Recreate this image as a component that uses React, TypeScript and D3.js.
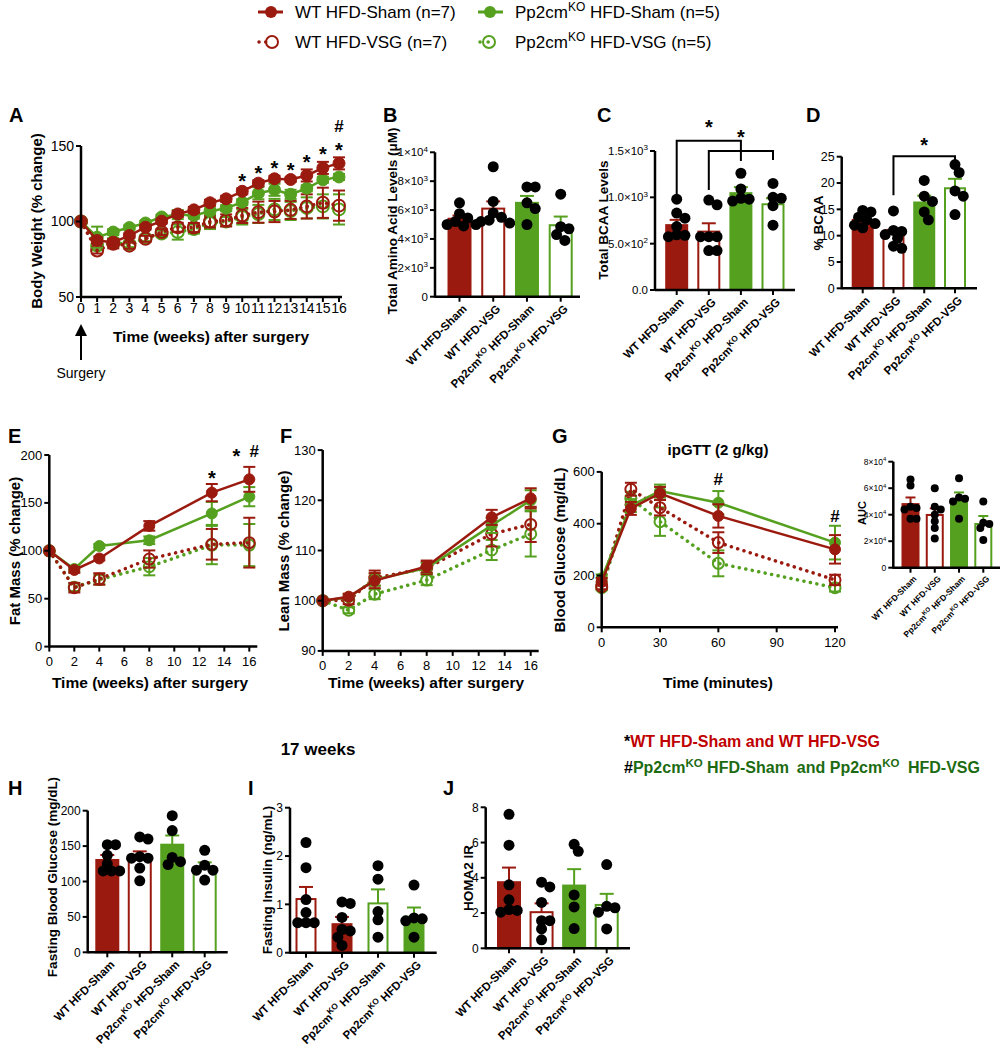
import React from 'react';
import * as d3 from 'd3';

const RED = '#9b1a0f';
const GREEN = '#55a01f';
const FONT = '"Liberation Sans", Arial, Helvetica, sans-serif';

const groups = ['WT HFD-Sham', 'WT HFD-VSG', 'Pp2cmKO HFD-Sham', 'Pp2cmKO HFD-VSG'];
const groupColors = [RED, RED, GREEN, GREEN];

// A - body weight % change, weeks 0..16
const weeksA = [0, 1, 2, 3, 4, 5, 6, 7, 8, 9, 10, 11, 12, 13, 14, 15, 16];
const bwWtSham = [100, 87.4, 86.3, 90.7, 96.2, 100.2, 105, 107.7, 112.4, 115, 120, 125.4, 128.3, 127.8, 130.5, 135.5, 138.5];
const bwWtShamErr = [0, 2, 2, 1.5, 1.5, 1.5, 2, 2, 2, 2, 2, 2, 2, 1.5, 4, 4, 4];
const bwKoSham = [100, 89.6, 93, 96, 99, 103, 104.6, 104, 106.8, 108.8, 112.8, 118.7, 121, 118, 122, 127.6, 129.5];
const bwKoShamErr = [0, 7, 2, 1.5, 1.5, 1.5, 3, 2, 2, 2, 2, 4, 4, 3, 2, 2, 2];
const bwWtVsg = [100, 80.8, 85.2, 84, 88.5, 93, 96.2, 96, 100, 100.7, 104, 106.2, 106.6, 107.7, 110, 112.4, 110.5];
const bwWtVsgErr = [0, 2, 3, 2, 2, 2, 3, 3, 4, 4, 5, 7, 7, 6, 8, 10, 10];
const bwKoVsg = [100, 84, 86, 85, 89, 92, 93, 95, 99, 100, 103, 105, 108, 107, 109, 110, 108];
const bwKoVsgErr = [0, 3, 3, 2, 2, 2, 5, 3, 4, 3, 5, 6, 7, 6, 7, 8, 10];
const starWeeksA = [10, 11, 12, 13, 14, 15, 16];

// E / F - body composition
const weeksEF = [0, 2, 4, 8, 13, 16];
const fatWtSham = [100, 80, 92, 126, 160.7, 174.6];
const fatWtShamErr = [0, 3, 2, 5, 9, 13];
const fatKoSham = [100, 81, 105, 111, 139, 156.5];
const fatKoShamErr = [0, 3, 2, 4, 12, 10];
const fatWtVsg = [100, 61.5, 70.6, 91.4, 106.8, 108.5];
const fatWtVsgErr = [0, 5, 6, 9, 16, 26];
const fatKoVsg = [100, 62, 70, 83.4, 106, 106];
const fatKoVsgErr = [0, 4, 5, 9, 20, 22];

const leanWtSham = [100, 100.8, 104, 106.8, 116.6, 120.4];
const leanWtShamErr = [0, 0.6, 1.5, 1.2, 1.5, 2];
const leanKoSham = [100, 100.7, 104.2, 106.5, 115, 120];
const leanKoShamErr = [0, 0.6, 1.2, 1, 1.5, 2];
const leanWtVsg = [100, 100.1, 104.5, 106.5, 113.3, 115.2];
const leanWtVsgErr = [0, 0.8, 1.5, 1.2, 2.5, 3.5];
const leanKoVsg = [100, 98.1, 101.3, 104.1, 110.1, 113.3];
const leanKoVsgErr = [0, 0.6, 1, 1, 2, 4.5];

// G - ipGTT
const gttTimes = [0, 15, 30, 60, 120];
const gttWtSham = [176, 459, 517, 430, 301];
const gttWtShamErr = [15, 25, 25, 45, 55];
const gttKoSham = [189, 470, 526, 481, 327];
const gttKoShamErr = [15, 25, 25, 45, 65];
const gttWtVsg = [157, 533, 462, 327, 183];
const gttWtVsgErr = [10, 25, 30, 40, 20];
const gttKoVsg = [153, 498, 408, 247, 153];
const gttKoVsgErr = [10, 25, 55, 50, 15];

// bar panels: means, sem, individual animals
const aaMean = [5400, 6100, 6500, 4950];
const aaErr = [220, 500, 480, 600];
const aaDots = [[6500, 5750, 5450, 5200, 5000, 4900, 5000], [9000, 6600, 5800, 5500, 5300, 5200, 5100], [7600, 7600, 6500, 6100, 5000], [7100, 4850, 4700, 4300, 3900]];

const bcaaMean = [700, 630, 1045, 925];
const bcaaErr = [57, 90, 65, 65];
const bcaaDots = [[980, 830, 775, 685, 595, 575, 590], [970, 920, 575, 575, 575, 425, 425], [1260, 1090, 980, 990, 960], [1150, 1000, 990, 910, 700]];

const pctMean = [13, 10.3, 16.3, 19];
const pctErr = [0.5, 0.8, 1.3, 1.8];
const pctDots = [[14.8, 14.5, 13.5, 13, 12, 11.5, 12.3], [14.7, 11, 10.8, 10.2, 9.5, 8, 7.6], [20.5, 17.5, 16.5, 14.5, 13], [23.5, 22, 18.5, 17.5, 14]];

const aucMean = [48000, 39800, 51800, 33000];
const aucErr = [5000, 5000, 5000, 6000];
const aucDots = [[66500, 62000, 46000, 44000, 45000, 37000, 37000], [60000, 46000, 44000, 40000, 30000, 22000, 35000], [67500, 53000, 52000, 50000, 37000], [50000, 34000, 33000, 30000, 21000]];

const fbgMean = [130.4, 133.6, 152, 120];
const fbgErr = [7, 9, 13, 7];
const fbgDots = [[152, 152, 137, 125, 115, 115, 115], [163, 160, 135, 133, 133, 119, 101], [193, 172, 134, 128, 124], [144, 123, 116, 116, 102]];

const insMean = [1.11, 0.59, 1.02, 0.745];
const insErr = [0.25, 0.15, 0.29, 0.19];
const insDots = [[2.28, 1.76, 1.1, 0.83, 0.62, 0.62, 0.62], [1.05, 1.02, 0.73, 0.48, 0.45, 0.32, 0.15], [1.8, 1.52, 0.85, 0.68, 0.32], [1.4, 0.72, 0.7, 0.66, 0.32]];

const homaMean = [3.75, 2.05, 3.56, 2.46];
const homaErr = [0.83, 0.5, 0.93, 0.63];
const homaDots = [[7.6, 5.85, 3.6, 2.75, 2.15, 2.05, 2.2], [3.75, 3.48, 2.6, 1.57, 1.57, 1.1, 0.48], [5.9, 5.5, 3.03, 2.35, 1.12], [4.75, 2.38, 2.3, 2.05, 1.1]];

type Series = { vals: number[]; err: number[]; color: string; open: boolean };

// GraphPad-like horizontal spread of dots (they may overlap a little)
function swarm(vals: number[], ys: (v: number) => number, r: number) {
  const order = vals.map((v, i) => i).sort((a, b) => vals[b] - vals[a]);
  const placed: { x: number; y: number }[] = [];
  const out: number[] = new Array(vals.length).fill(0);
  order.forEach(i => {
    const y = ys(vals[i]);
    const steps = [0, 1, -1, 2, -2, 3, -3, 4, -4];
    for (const k of steps) {
      const x = k * r * 0.75;
      if (placed.every(p => Math.hypot(p.x - x, p.y - y) >= r * 1.45) || Math.abs(k) === 4) {
        placed.push({ x, y });
        out[i] = x;
        break;
      }
    }
  });
  return out;
}

function GroupName({ name, size }: { name: string; size: number }) {
  if (name.startsWith('Pp2cmKO')) {
    return (
      <>
        <tspan>Pp2cm</tspan>
        <tspan dy={-size * 0.4} fontSize={size * 0.72}>KO</tspan>
        <tspan dy={size * 0.4}>{name.replace('Pp2cmKO', '')}</tspan>
      </>
    );
  }
  return <tspan>{name}</tspan>;
}

function Letter({ x, y, t }: { x: number; y: number; t: string }) {
  return <text x={x} y={y + 7} fontSize={20} fontWeight="bold">{t}</text>;
}

function Star({ x, y, t, size = 20 }: { x: number; y: number; t: string; size?: number }) {
  const dy = t === '*' ? 0.62 : 0.36;
  return <text x={x} y={y + size * dy} fontSize={size} fontWeight="bold" textAnchor="middle">{t}</text>;
}

function YTitle({ x, y, t, size = 15 }: { x: number; y: number; t: string; size?: number }) {
  return (
    <text transform={`translate(${x},${y}) rotate(-90)`} fontSize={size} fontWeight="bold" textAnchor="middle" dy="0.35em">
      {t}
    </text>
  );
}

type SciFmt = (v: number) => [string, string?];

function BarPanel(p: {
  axisX: number; axisEnd: number; y0: number; yTop: number; max: number; ticks: number[]; fmt: SciFmt;
  tickFont: number; centers: [number, number]; barW: number; means: number[]; errs: number[]; dots: number[][];
  filled: boolean[]; xFont: number; dotR: number; cap: number;
}) {
  const ys = d3.scaleLinear().domain([0, p.max]).range([p.y0, p.yTop]);
  const xs = d3.scalePoint<string>().domain(groups).range(p.centers);
  return (
    <g>
      {groups.map((g, i) => {
        const cx = xs(g) as number;
        const c = groupColors[i];
        const top = ys(p.means[i]);
        const eTop = ys(p.means[i] + p.errs[i]);
        const offs = swarm(p.dots[i], ys, p.dotR);
        return (
          <g key={g}>
            <line x1={cx} x2={cx} y1={top} y2={eTop} stroke={c} strokeWidth={2} />
            <line x1={cx - p.cap} x2={cx + p.cap} y1={eTop} y2={eTop} stroke={c} strokeWidth={2} />
            <rect x={cx - p.barW / 2} y={top} width={p.barW} height={p.y0 - top} fill={p.filled[i] ? c : 'white'} stroke={c} strokeWidth={2} />
            {p.dots[i].map((v, j) => (
              <circle key={j} cx={cx + offs[j]} cy={ys(v)} r={p.dotR} fill="black" />
            ))}
            <line x1={cx} x2={cx} y1={p.y0} y2={p.y0 + 5} stroke="black" strokeWidth={2} />
            <text transform={`translate(${cx + 3},${p.y0 + 8}) rotate(-45)`} fontSize={p.xFont} fontWeight="bold" textAnchor="end" dy="0.6em">
              <GroupName name={g} size={p.xFont} />
            </text>
          </g>
        );
      })}
      <line x1={p.axisX} x2={p.axisEnd} y1={p.y0} y2={p.y0} stroke="black" strokeWidth={2.5} />
      <line x1={p.axisX} x2={p.axisX} y1={p.y0 + 1} y2={p.yTop} stroke="black" strokeWidth={2.5} />
      {p.ticks.map(t => {
        const [m, s] = p.fmt(t);
        return (
          <g key={t}>
            <line x1={p.axisX - 5} x2={p.axisX} y1={ys(t)} y2={ys(t)} stroke="black" strokeWidth={2} />
            <text x={p.axisX - 7} y={ys(t)} dy="0.35em" fontSize={p.tickFont} textAnchor="end">
              {m}
              {s && <tspan dy={-p.tickFont * 0.4} fontSize={p.tickFont * 0.7}>{s}</tspan>}
            </text>
          </g>
        );
      })}
    </g>
  );
}

function LinePanel(p: {
  xs: d3.ScaleLinear<number, number>; ys: d3.ScaleLinear<number, number>; x: number[]; series: Series[];
  xTicks: number[]; yTicks: number[]; r: number; cap: number; font: number; xExt: number; labelGap: number;
}) {
  const [x0, x1] = p.xs.range();
  const [y0, y1] = p.ys.range();
  return (
    <g>
      {p.series.map((s, i) => {
        const line = d3.line<number>().x((_, j) => p.xs(p.x[j])).y(v => p.ys(v));
        return (
          <g key={i}>
            {s.vals.map((v, j) => {
              if (!s.err[j]) return null;
              const cx = p.xs(p.x[j]);
              const hi = p.ys(v + s.err[j]);
              const lo = p.ys(v - s.err[j]);
              return (
                <g key={j} stroke={s.color} strokeWidth={2}>
                  <line x1={cx} x2={cx} y1={lo} y2={hi} />
                  <line x1={cx - p.cap} x2={cx + p.cap} y1={hi} y2={hi} />
                  <line x1={cx - p.cap} x2={cx + p.cap} y1={lo} y2={lo} />
                </g>
              );
            })}
            <path
              d={line(s.vals) || ''}
              fill="none"
              stroke={s.color}
              strokeWidth={s.open ? 3.5 : 2.5}
              strokeDasharray={s.open ? '0.1 6.5' : undefined}
              strokeLinecap={s.open ? 'round' : 'butt'}
            />
            {s.vals.map((v, j) => (
              <circle key={j} cx={p.xs(p.x[j])} cy={p.ys(v)} r={p.r} fill={s.open ? 'none' : s.color} stroke={s.color} strokeWidth={s.open ? 2 : 1} />
            ))}
          </g>
        );
      })}
      <line x1={x0} x2={x1 + p.xExt} y1={y0} y2={y0} stroke="black" strokeWidth={2.5} />
      <line x1={x0} x2={x0} y1={y0 + 1} y2={y1} stroke="black" strokeWidth={2.5} />
      {p.xTicks.map(t => (
        <g key={t}>
          <line x1={p.xs(t)} x2={p.xs(t)} y1={y0} y2={y0 + 5} stroke="black" strokeWidth={2} />
          <text x={p.xs(t)} y={y0 + p.labelGap} fontSize={p.font} textAnchor="middle" dy="0.35em">{t}</text>
        </g>
      ))}
      {p.yTicks.map(t => (
        <g key={t}>
          <line x1={x0 - 5} x2={x0} y1={p.ys(t)} y2={p.ys(t)} stroke="black" strokeWidth={2} />
          <text x={x0 - 7} y={p.ys(t)} fontSize={p.font} textAnchor="end" dy="0.35em">{t}</text>
        </g>
      ))}
    </g>
  );
}

const sci: SciFmt = v => {
  if (v === 0) return ['0'];
  const e = Math.floor(Math.log10(v));
  return [`${Math.round(v / 10 ** e)}×10`, `${e}`];
};
const sci1: SciFmt = v => {
  if (v === 0) return ['0.0'];
  const e = Math.floor(Math.log10(v));
  return [`${(v / 10 ** e).toFixed(1)}×10`, `${e}`];
};
const plain: SciFmt = v => [`${v}`];

const groupsFilled = [true, false, true, false];
const insulinFilled = [false, true, false, true];

function mk(vals: number[], err: number[], color: string, open: boolean): Series {
  return { vals, err, color, open };
}

export default function App() {
  // A
  const xsA = d3.scaleLinear().domain([0, 16]).range([81, 339]);
  const ysA = d3.scaleLinear().domain([50, 150]).range([297, 146]);
  const seriesA = [
    mk(bwKoVsg, bwKoVsgErr, GREEN, true),
    mk(bwWtVsg, bwWtVsgErr, RED, true),
    mk(bwKoSham, bwKoShamErr, GREEN, false),
    mk(bwWtSham, bwWtShamErr, RED, false),
  ];
  // E
  const xsE = d3.scaleLinear().domain([0, 16]).range([49.3, 249.3]);
  const ysE = d3.scaleLinear().domain([0, 200]).range([646.6, 455]);
  const seriesE = [
    mk(fatKoVsg, fatKoVsgErr, GREEN, true),
    mk(fatWtVsg, fatWtVsgErr, RED, true),
    mk(fatKoSham, fatKoShamErr, GREEN, false),
    mk(fatWtSham, fatWtShamErr, RED, false),
  ];
  // F
  const xsF = d3.scaleLinear().domain([0, 16]).range([322.7, 530.7]);
  const ysF = d3.scaleLinear().domain([90, 130]).range([650.9, 450.1]);
  const seriesF = [
    mk(leanKoVsg, leanKoVsgErr, GREEN, true),
    mk(leanWtVsg, leanWtVsgErr, RED, true),
    mk(leanKoSham, leanKoShamErr, GREEN, false),
    mk(leanWtSham, leanWtShamErr, RED, false),
  ];
  // G
  const xsG = d3.scaleLinear().domain([0, 120]).range([601.7, 835]);
  const ysG = d3.scaleLinear().domain([0, 600]).range([627.3, 471.9]);
  const seriesG = [
    mk(gttKoVsg, gttKoVsgErr, GREEN, true),
    mk(gttWtVsg, gttWtVsgErr, RED, true),
    mk(gttKoSham, gttKoShamErr, GREEN, false),
    mk(gttWtSham, gttWtShamErr, RED, false),
  ];

  const topA = (w: number) => Math.min(...seriesA.map(s => ysA(s.vals[w] + s.err[w])));
  const topE = (i: number) => Math.min(...seriesE.map(s => ysE(s.vals[i] + s.err[i])));
  const topG = (i: number) => Math.min(...seriesG.map(s => ysG(s.vals[i] + s.err[i])));

  // bracket helpers (C, D)
  const ysC = d3.scaleLinear().domain([0, 1500]).range([290, 151]);
  const xsC = d3.scalePoint<string>().domain(groups).range([676.7, 773]);
  const ysD = d3.scaleLinear().domain([0, 25]).range([288.3, 156.7]);
  const xsD = d3.scalePoint<string>().domain(groups).range([862.7, 955]);

  const bracket = (xa: number, xb: number, yt: number, ya: number, yb: number, key: string) => (
    <path key={key} d={`M${xa},${ya}V${yt}H${xb}V${yb}`} fill="none" stroke="black" strokeWidth={2} />
  );

  return (
    <svg width={1003} height={1050} style={{ position: 'absolute', left: 0, top: 0, background: 'white' }} fontFamily={FONT}>
      {/* top legend */}
      <g fontSize={17}>
        <line x1={258} x2={283} y1={12} y2={12} stroke={RED} strokeWidth={3} />
        <circle cx={271} cy={12} r={6} fill={RED} />
        <text x={295} y={18}>WT HFD-Sham (n=7)</text>
        <line x1={478} x2={503} y1={12} y2={12} stroke={GREEN} strokeWidth={3} />
        <circle cx={490} cy={12} r={6} fill={GREEN} />
        <text x={515} y={18}>
          Pp2cm<tspan dy={-7} fontSize={12}>KO</tspan><tspan dy={7}> HFD-Sham (n=5)</tspan>
        </text>
        <line x1={259} x2={272} y1={42} y2={42} stroke={RED} strokeWidth={3.5} strokeDasharray="0.1 6.5" strokeLinecap="round" />
        <circle cx={272} cy={42} r={6} fill="none" stroke={RED} strokeWidth={2} />
        <text x={295} y={48}>WT HFD-VSG (n=7)</text>
        <line x1={480} x2={489} y1={42} y2={42} stroke={GREEN} strokeWidth={3.5} strokeDasharray="0.1 8" strokeLinecap="round" />
        <circle cx={489} cy={42} r={6} fill="none" stroke={GREEN} strokeWidth={2} />
        <text x={515} y={48}>
          Pp2cm<tspan dy={-7} fontSize={12}>KO</tspan><tspan dy={7}> HFD-VSG (n=5)</tspan>
        </text>
      </g>

      {/* A */}
      <Letter x={9} y={115} t="A" />
      <LinePanel xs={xsA} ys={ysA} x={weeksA} series={seriesA} xTicks={weeksA} yTicks={[50, 100, 150]} r={6} cap={6} font={14} xExt={3} labelGap={11} />
      <YTitle x={37} y={221} t="Body Weight (% change)" />
      <text x={211} y={342} fontSize={15.5} fontWeight="bold" textAnchor="middle">Time (weeks) after surgery</text>
      {starWeeksA.map(w => (
        <Star key={w} x={xsA(w)} y={topA(w) - 13} t="*" />
      ))}
      <Star x={xsA(16)} y={topA(16) - 31} t="#" size={17} />
      <line x1={81} x2={81} y1={330} y2={360} stroke="black" strokeWidth={2} />
      <path d="M75,336 L81,324 L87,336 Z" fill="black" />
      <text x={81} y={378} fontSize={14} textAnchor="middle">Surgery</text>

      {/* B */}
      <Letter x={383} y={115} t="B" />
      <BarPanel axisX={435} axisEnd={580} y0={296.7} yTop={152.3} max={10000} ticks={[0, 2000, 4000, 6000, 8000, 10000]} fmt={sci}
        tickFont={11.5} centers={[459.5, 560.7]} barW={22} means={aaMean} errs={aaErr} dots={aaDots} filled={groupsFilled} xFont={11.5} dotR={5.5} cap={7} />
      <YTitle x={392} y={221} t="Total Amino Acid Levels (μM)" size={13.5} />

      {/* C */}
      <Letter x={597} y={115} t="C" />
      <BarPanel axisX={655} axisEnd={795} y0={290} yTop={151} max={1500} ticks={[0, 500, 1000, 1500]} fmt={sci1}
        tickFont={11.5} centers={[676.7, 773]} barW={21} means={bcaaMean} errs={bcaaErr} dots={bcaaDots} filled={groupsFilled} xFont={11.5} dotR={5.5} cap={7} />
      <YTitle x={603} y={220} t="Total BCAA Levels" size={13.5} />
      {bracket(xsC(groups[0]) as number, xsC(groups[2]) as number, ysC(1610), ysC(1026), ysC(1393), 'c1')}
      {bracket(xsC(groups[1]) as number, xsC(groups[3]) as number, ysC(1501), ysC(1080), ysC(1404), 'c2')}
      <Star x={((xsC(groups[0]) as number) + (xsC(groups[2]) as number)) / 2} y={122} t="*" />
      <Star x={((xsC(groups[1]) as number) + (xsC(groups[3]) as number)) / 2} y={132} t="*" />

      {/* D */}
      <Letter x={806} y={115} t="D" />
      <BarPanel axisX={841.7} axisEnd={977} y0={288.3} yTop={156.7} max={25} ticks={[0, 5, 10, 15, 20, 25]} fmt={plain}
        tickFont={12.5} centers={[862.7, 955]} barW={20} means={pctMean} errs={pctErr} dots={pctDots} filled={groupsFilled} xFont={11.5} dotR={5.5} cap={7} />
      <YTitle x={818} y={223} t="% BCAA" size={13.5} />
      {bracket(xsD(groups[1]) as number, xsD(groups[3]) as number, ysD(25.1), ysD(17.7), ysD(22.5), 'd1')}
      <Star x={((xsD(groups[1]) as number) + (xsD(groups[3]) as number)) / 2} y={140} t="*" />

      {/* E */}
      <Letter x={8} y={436} t="E" />
      <LinePanel xs={xsE} ys={ysE} x={weeksEF} series={seriesE} xTicks={[0, 2, 4, 6, 8, 10, 12, 14, 16]} yTicks={[0, 50, 100, 150, 200]} r={5.5} cap={6} font={13} xExt={8} labelGap={15} />
      <YTitle x={15} y={551} t="Fat Mass (% change)" />
      <text x={150} y={688} fontSize={15.5} fontWeight="bold" textAnchor="middle">Time (weeks) after surgery</text>
      <Star x={xsE(13)} y={topE(4) - 11} t="*" />
      <Star x={xsE(16) - 13} y={451} t="*" />
      <Star x={xsE(16) + 5} y={451} t="#" size={17} />

      {/* F */}
      <Letter x={280} y={436} t="F" />
      <LinePanel xs={xsF} ys={ysF} x={weeksEF} series={seriesF} xTicks={[0, 2, 4, 6, 8, 10, 12, 14, 16]} yTicks={[90, 100, 110, 120, 130]} r={5.5} cap={6} font={13} xExt={8} labelGap={15} />
      <YTitle x={284} y={551} t="Lean Mass (% change)" />
      <text x={426} y={688} fontSize={15.5} fontWeight="bold" textAnchor="middle">Time (weeks) after surgery</text>

      {/* G */}
      <Letter x={552} y={436} t="G" />
      <text x={718} y={455} fontSize={15} fontWeight="bold" textAnchor="middle">ipGTT (2 g/kg)</text>
      <LinePanel xs={xsG} ys={ysG} x={gttTimes} series={seriesG} xTicks={[0, 30, 60, 90, 120]} yTicks={[0, 200, 400, 600]} r={5.5} cap={6} font={13} xExt={3} labelGap={15} />
      <YTitle x={560} y={550} t="Blood Glucose (mg/dL)" />
      <text x={718} y={688} fontSize={15.5} fontWeight="bold" textAnchor="middle">Time (minutes)</text>
      <Star x={xsG(60)} y={topG(3) - 12} t="#" size={17} />
      <Star x={xsG(120)} y={topG(4) - 10} t="#" size={17} />

      {/* G inset AUC */}
      <BarPanel axisX={893.3} axisEnd={1000} y0={567.7} yTop={461.7} max={80000} ticks={[0, 20000, 40000, 60000, 80000]} fmt={sci}
        tickFont={8.5} centers={[910.5, 983.3]} barW={16} means={aucMean} errs={aucErr} dots={aucDots} filled={groupsFilled} xFont={8.5} dotR={4} cap={5} />
      <YTitle x={862} y={513} t="AUC" size={11} />

      {/* bottom notes */}
      <text x={318} y={755} fontSize={17} fontWeight="bold" textAnchor="middle">17 weeks</text>
      <text x={624} y={747} fontSize={16} fontWeight="bold">
        <tspan fill="black">*</tspan><tspan fill="#c00000">WT HFD-Sham and WT HFD-VSG</tspan>
      </text>
      <text x={624} y={773} fontSize={16} fontWeight="bold" fill="#1c6b12">
        <tspan fill="black">#</tspan>Pp2cm<tspan dy={-6} fontSize={11.5}>KO</tspan><tspan dy={6}> HFD-Sham</tspan>
        <tspan dx={8}>and Pp2cm</tspan><tspan dy={-6} fontSize={11.5}>KO</tspan><tspan dy={6} dx={4}> HFD-VSG</tspan>
      </text>

      {/* H */}
      <Letter x={8} y={788} t="H" />
      <BarPanel axisX={87.7} axisEnd={227.7} y0={952.3} yTop={810.7} max={200} ticks={[0, 50, 100, 150, 200]} fmt={plain}
        tickFont={12} centers={[107.3, 204.7]} barW={22} means={fbgMean} errs={fbgErr} dots={fbgDots} filled={groupsFilled} xFont={11.5} dotR={5.5} cap={7} />
      <YTitle x={52} y={877} t="Fasting Blood Glucose (mg/dL)" size={13.5} />

      {/* I */}
      <Letter x={248} y={788} t="I" />
      <BarPanel axisX={290} axisEnd={436.7} y0={952.7} yTop={807.7} max={3} ticks={[0, 1, 2, 3]} fmt={plain}
        tickFont={12} centers={[306, 414]} barW={19} means={insMean} errs={insErr} dots={insDots} filled={insulinFilled} xFont={11.5} dotR={5.5} cap={7} />
      <YTitle x={267} y={880} t="Fasting Insulin (ng/mL)" size={13.5} />

      {/* J */}
      <Letter x={443} y={788} t="J" />
      <BarPanel axisX={485.7} axisEnd={630} y0={948.3} yTop={807.3} max={8} ticks={[0, 2, 4, 6, 8]} fmt={plain}
        tickFont={12} centers={[509, 606.7]} barW={22} means={homaMean} errs={homaErr} dots={homaDots} filled={groupsFilled} xFont={11.5} dotR={5.5} cap={7} />
      <YTitle x={468} y={878} t="HOMA2 IR" size={13.5} />
    </svg>
  );
}
